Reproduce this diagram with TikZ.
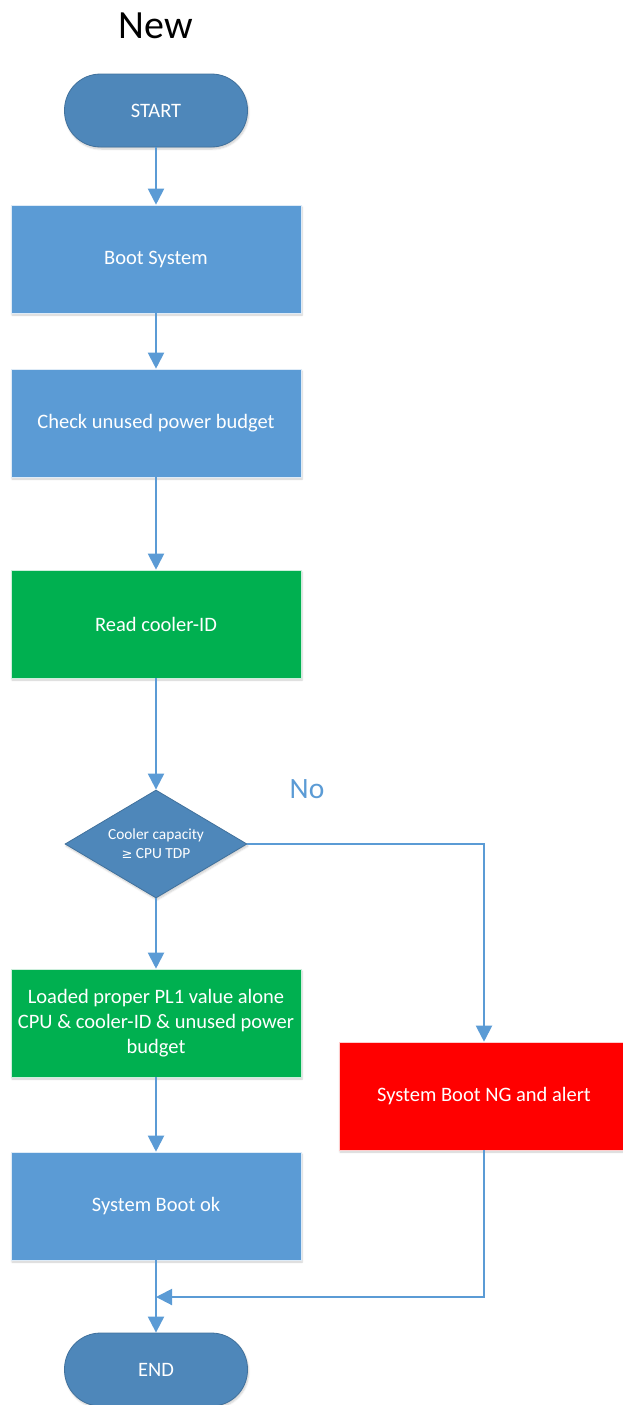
\documentclass[tikz,border=0pt]{standalone}
\usepackage{fontspec}
\setmainfont{Carlito}
\usetikzlibrary{arrows.meta,shapes.geometric,shadows.blur}
\definecolor{termfill}{HTML}{4E87BA}
\definecolor{termdraw}{HTML}{41719C}
\definecolor{procblue}{HTML}{5B9BD5}
\definecolor{procgreen}{HTML}{00B050}
\definecolor{procred}{HTML}{FF0000}
\definecolor{linkblue}{HTML}{5B9BD5}
\tikzset{
  shade/.style={blur shadow={shadow xshift=1pt, shadow yshift=-2pt, shadow blur steps=6, shadow opacity=20}},
  terminal/.style={shade, draw=termdraw, line width=0.8pt, fill=termfill, rounded corners=36pt,
    minimum width=183pt, minimum height=73pt, text=white, font=\fontsize{20.5}{25}\selectfont},
  procbox/.style={shade, draw=white!80!procblue, line width=0.6pt, fill=procblue, minimum width=290pt,
    minimum height=108pt, text=white, align=center, font=\fontsize{20.5}{25}\selectfont},
  decision/.style={shade, diamond, aspect=1.685, draw=termdraw, line width=0.8pt, fill=termfill,
    minimum width=182pt, minimum height=108pt, inner sep=0pt, text=white, align=center,
    font=\fontsize{15.4}{19}\selectfont},
  link/.style={draw=linkblue, line width=2pt, -{Triangle[length=16pt,width=16pt]}}
}
\begin{document}
\begin{tikzpicture}[x=1pt,y=-1pt]
\useasboundingbox (0,0) rectangle (623,1405);
\node[font=\fontsize{40}{44}\selectfont] (title) at (156,26) {New};
\node[terminal] (start) at (156,110.5) {START};
\node[procbox] (boot) at (156,259) {Boot System};
\node[procbox] (check) at (156,423) {Check unused power budget};
\node[procbox, fill=procgreen, draw=white!80!procgreen] (read) at (156,624) {Read cooler-ID};
\node[decision] (dec) at (156,844) {Cooler capacity\\{\fontspec{DejaVu Sans}\fontsize{13}{19}\selectfont ≥} CPU TDP};
\node[text=linkblue, font=\fontsize{29.5}{32}\selectfont] (no) at (307,789) {No};
\node[procbox, fill=procgreen, draw=white!80!procgreen] (loaded) at (156,1023)
  {Loaded proper PL1 value alone\\CPU \& cooler-ID \& unused power\\budget};
\node[procbox, fill=procred, draw=white!80!procred] (ng) at (484,1096) {System Boot NG and alert};
\node[procbox] (ok) at (156,1206) {System Boot ok};
\node[terminal] (end) at (156,1369.5) {END};
\coordinate (join) at (156,1297);

\draw[link] (start) -- (boot);
\draw[link] (boot) -- (check);
\draw[link] (check) -- (read);
\draw[link] (read) -- (dec);
\draw[link] (dec) -- (loaded);
\draw[link] (loaded) -- (ok);
\draw[link] (ok) -- (end);
\draw[link] (dec.east) -| (ng.north);
\draw[link] (ng.south) |- (join);
\end{tikzpicture}
\end{document}
